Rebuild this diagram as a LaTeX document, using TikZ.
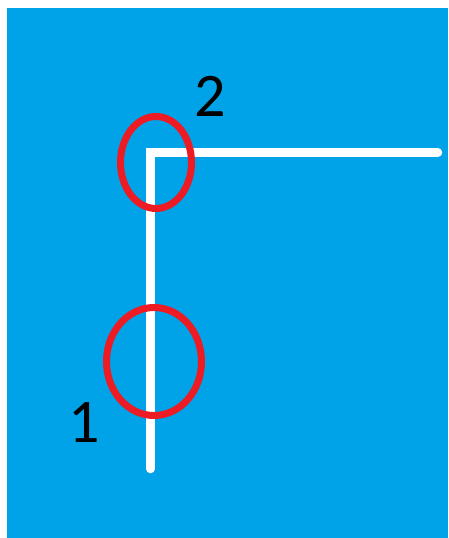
\documentclass[tikz,border=0pt]{standalone}
\usepackage{fontspec}
\setmainfont{Carlito}
\usetikzlibrary{shapes.geometric}
\definecolor{bgblue}{RGB}{0,162,232}
\definecolor{mkred}{RGB}{237,28,36}

\begin{document}
\begin{tikzpicture}[x=1pt,y=-1pt,
    wire/.style={draw=white,line width=8.5pt,line cap=round,line join=miter},
    ring/.style={ellipse,draw=mkred,line width=7pt,inner sep=0pt},
    num/.style={inner sep=0pt,font=\fontsize{62}{62}\selectfont}]
  \useasboundingbox (0,0) rectangle (448,538);
  \fill[white] (0,0) rectangle (448,538);
  \fill[bgblue] (7,8) rectangle (448,538);
  \coordinate (bot) at (150.5,469);
  \coordinate (corner) at (150.5,152.5);
  \coordinate (tip) at (438,152.5);
  \draw[wire] (bot)--(corner)--(tip);
  % markers
  \node[ring,minimum width=71pt,minimum height=92pt] (ring2) at (156,162.5) {};
  \node[ring,minimum width=95pt,minimum height=108pt] (ring1) at (154,361.5) {};
  \node[num] (lab2) at (210.5,96) {2};
  \node[num] (lab1) at (84.5,423) {1};
\end{tikzpicture}
\end{document}
